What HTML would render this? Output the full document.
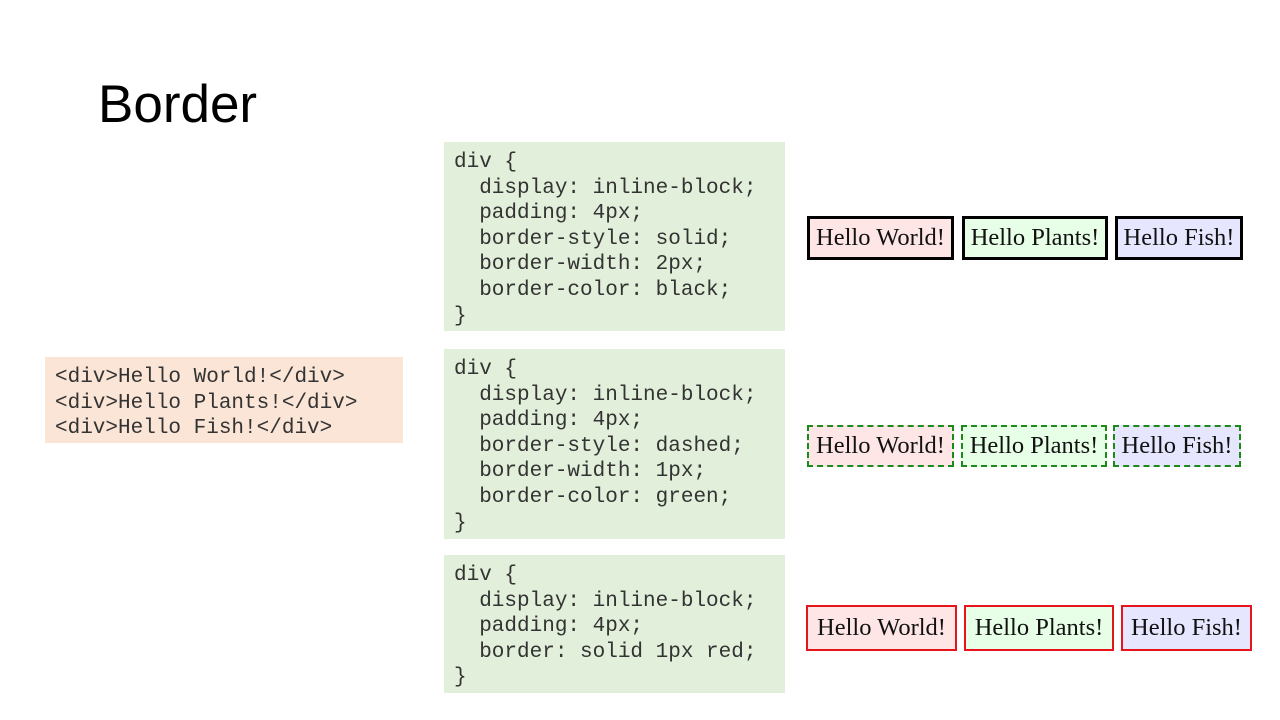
<!DOCTYPE html>
<html><head><meta charset="utf-8"><style>
html,body{margin:0;padding:0;background:#fff;}
body{width:1280px;height:720px;position:relative;overflow:hidden;}
.t{position:absolute;left:98px;top:70px;font:53px "Liberation Sans",sans-serif;color:#000;line-height:70px;}
.code{position:absolute;background:#e2efda;font:21px "Liberation Mono",monospace;color:#333;white-space:pre;line-height:25.6px;box-sizing:border-box;padding:8px 0 0 10px;}
.html{background:#fbe5d6;}
.b{position:absolute;box-sizing:border-box;font:24.5px "Liberation Serif",serif;color:#111;text-align:center;white-space:nowrap;}
.p{background:#ffe6e6}.g{background:#e6ffe6}.f{background:#e6e6ff}
.r1{border:3px solid #000;top:216px;height:44px;line-height:38px;}
.r2{border:2px dashed #1a8a1a;top:425px;height:42px;line-height:38px;}
.r3{border:2px solid #e8141c;top:605px;height:46px;line-height:42px;}
</style></head><body>
<div class="t">Border</div>
<div class="code html" style="left:45px;top:357px;width:358px;height:86px;padding-top:8px">&lt;div&gt;Hello World!&lt;/div&gt;
&lt;div&gt;Hello Plants!&lt;/div&gt;
&lt;div&gt;Hello Fish!&lt;/div&gt;</div>
<div class="code" style="left:444px;top:142px;width:341px;height:189px">div {
  display: inline-block;
  padding: 4px;
  border-style: solid;
  border-width: 2px;
  border-color: black;
}</div>
<div class="code" style="left:444px;top:349px;width:341px;height:190px">div {
  display: inline-block;
  padding: 4px;
  border-style: dashed;
  border-width: 1px;
  border-color: green;
}</div>
<div class="code" style="left:444px;top:555px;width:341px;height:138px">div {
  display: inline-block;
  padding: 4px;
  border: solid 1px red;
}</div>

<div class="b r1 p" style="left:807px;width:147px">Hello World!</div>
<div class="b r1 g" style="left:962px;width:146px">Hello Plants!</div>
<div class="b r1 f" style="left:1115px;width:128px">Hello Fish!</div>

<div class="b r2 p" style="left:807px;width:147px">Hello World!</div>
<div class="b r2 g" style="left:961px;width:146px">Hello Plants!</div>
<div class="b r2 f" style="left:1113px;width:128px">Hello Fish!</div>

<div class="b r3 p" style="left:806px;width:151px">Hello World!</div>
<div class="b r3 g" style="left:964px;width:150px">Hello Plants!</div>
<div class="b r3 f" style="left:1121px;width:131px">Hello Fish!</div>
</body></html>
